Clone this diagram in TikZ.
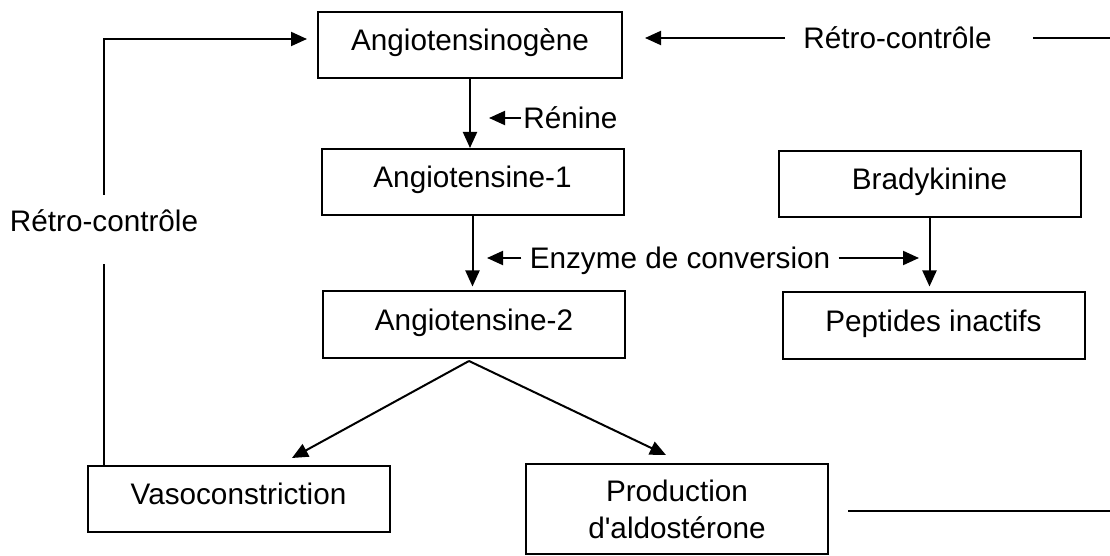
\documentclass[tikz,border=0pt]{standalone}
\usepackage{fontspec}
\setmainfont{Liberation Sans}
\usetikzlibrary{arrows.meta}
\tikzset{
  boxbase/.style={draw, line width=1pt, inner sep=0pt, minimum width=151pt, minimum height=33pt, align=center},
  box/.style={boxbase, text height=14pt, text depth=8.5pt},
  lbl/.style={inner sep=0pt, text height=14pt, text depth=3pt},
  line/.style={draw, line width=1pt, -{Triangle[length=8pt,width=7pt]}},
  plain/.style={draw, line width=1pt}
}

\begin{document}
\begin{tikzpicture}[x=0.5pt, y=-0.5pt, every node/.style={font=\fontsize{14.85}{18.5}\selectfont}]
  \useasboundingbox (0,0) rectangle (1110,556);

  % boxes
  \node[box, minimum width=152pt] (ango) at (470,45.5) {Angiotensinogène};
  \node[box] (ang1) at (472.5,182) {Angiotensine-1};
  \node[box] (ang2) at (474,324.5) {Angiotensine-2};
  \node[box] (brady) at (929.5,184) {Bradykinine};
  \node[box] (pept) at (933.5,325.5) {Peptides inactifs};
  \node[box] (vaso) at (238.5,499) {Vasoconstriction};
  \node[boxbase, minimum height=45pt] (prod) at (677,509) {Production\\d\textquotesingle aldostérone};

  % labels
  \node[lbl, inner xsep=1pt, anchor=west] (renine) at (521,118) {Rénine};
  \node[lbl, inner xsep=4pt] (enzyme) at (680,258) {Enzyme de conversion};
  \node[lbl] (retroR) at (897.5,38) {Rétro-contrôle};
  \node[inner sep=0pt, text height=18.5pt, text depth=16pt, anchor=base] (retroL) at (104,232) {Rétro-contrôle};

  % free ends
  \coordinate (fbInL) at (307,39);
  \coordinate (fbInR) at (645,38);
  \coordinate (fbEdgeR) at (1110,38);
  \coordinate (aldoEdge) at (1110,511);
  \coordinate (renTip) at (489,118);
  \coordinate (enzTipL) at (487,258);
  \coordinate (enzTipR) at (919,258);
  \coordinate (split) at (469,361);
  \coordinate (vasoIn) at (292,458);
  \coordinate (prodIn) at (666,455);

  \begin{scope}[every path/.style=line]
    \path (ango) -- (ango.south |- ang1.north);
    \path[shorten >=2pt] (ang1) -- (ang1.south |- ang2.north);
    \path[shorten >=2.5pt] (brady) -- (brady.south |- pept.north);
    \path (renine) -- (renTip);
    \path (enzyme) -- (enzTipL);
    \path (enzyme) -- (enzTipR);
    \path (split) -- (vasoIn);
    \path (split) -- (prodIn);
    \path (retroL.north) |- (fbInL);
    \path[shorten <=9pt] (retroR.west) -- (fbInR);
  \end{scope}

  \draw[plain] (vaso.north -| retroL) -- (retroL.south);
  \draw[plain, shorten <=20.5pt] (retroR.east) -- (fbEdgeR);
  \draw[plain, shorten <=9.5pt] (prod.east |- aldoEdge) -- (aldoEdge);
\end{tikzpicture}
\end{document}
